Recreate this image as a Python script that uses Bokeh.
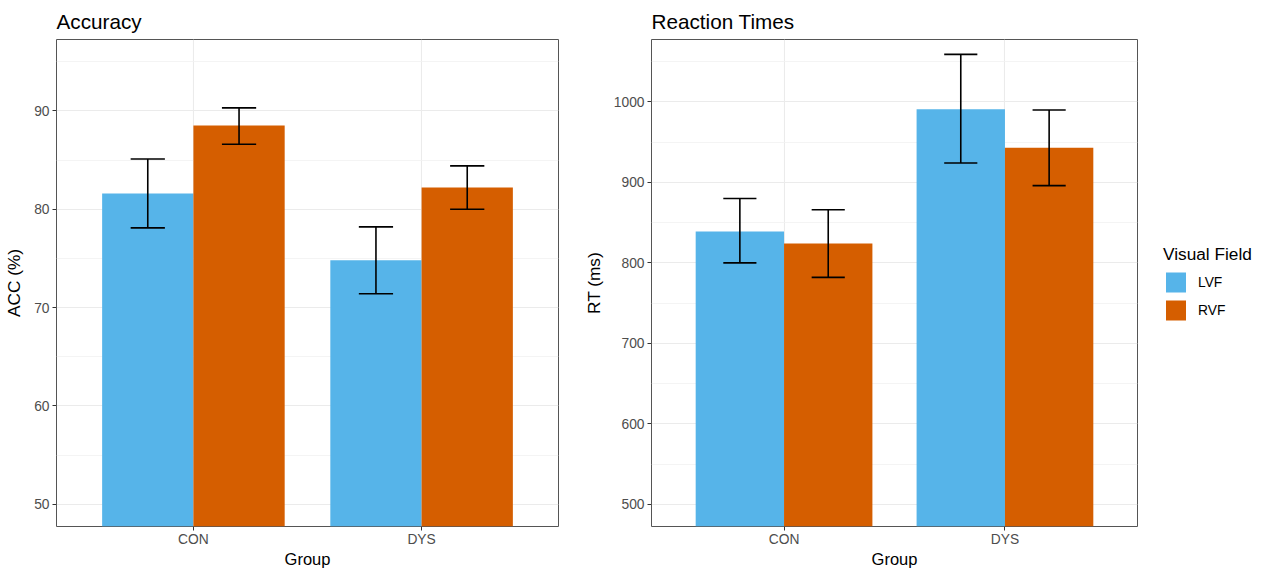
from bokeh.plotting import figure
from bokeh.layouts import row
from bokeh.models import Range1d, FixedTicker, Legend, LegendItem
from bokeh.embed import file_html
from bokeh.resources import INLINE

# ---- data ----
groups = ["CON", "DYS"]
fields = ["LVF", "RVF"]

acc_lvf = [81.6, 74.8]
acc_lvf_lo = [78.1, 71.4]
acc_lvf_hi = [85.1, 78.2]
acc_rvf = [88.5, 82.2]
acc_rvf_lo = [86.6, 80.0]
acc_rvf_hi = [90.3, 84.4]

rt_lvf = [839, 991]
rt_lvf_lo = [800, 924]
rt_lvf_hi = [880, 1059]
rt_rvf = [824, 943]
rt_rvf_lo = [782, 896]
rt_rvf_hi = [866, 990]

acc_limits = [50, 95]
acc_ticks = [50, 60, 70, 80, 90]
acc_minor = [55, 65, 75, 85, 95]
rt_limits = [500, 1050]
rt_ticks = [500, 600, 700, 800, 900, 1000]
rt_minor = [550, 650, 750, 850, 950, 1050]

# ---- style ----
COLORS = {"LVF": "#56B4E9", "RVF": "#D55E00"}
FONT = "Liberation Sans"
BAR_W = 0.4
DODGE = {"LVF": -0.2, "RVF": 0.2}
CAP = 0.075


def make_panel(title, ylabel, limits, ticks, minor, series, border_left, border_right, frame_w):
    lo, hi = limits
    pad = 0.05 * (hi - lo)
    p = figure(
        frame_width=frame_w, frame_height=487,
        min_border_left=border_left, min_border_right=border_right,
        min_border_top=39, min_border_bottom=40,
        x_range=Range1d(0.4, 2.6), y_range=Range1d(lo - pad, hi + pad),
        output_backend="svg", toolbar_location=None, title=title,
    )
    p.title.text_font = FONT
    p.title.text_font_size = "20.7px"
    p.title.text_font_style = "normal"
    p.title.text_color = "#000000"
    p.title.standoff = 14
    p.title.offset = 0

    p.background_fill_color = "white"
    p.border_fill_color = "white"
    p.outline_line_color = "#555555"
    p.outline_line_width = 1

    xs = [i + 1 for i in range(len(groups))]
    p.xaxis.ticker = FixedTicker(ticks=xs)
    p.xaxis.major_label_overrides = {x: g for x, g in zip(xs, groups)}
    p.xaxis.axis_label = "Group"
    p.yaxis.ticker = FixedTicker(ticks=ticks, minor_ticks=minor)
    p.yaxis.axis_label = ylabel

    for ax in (p.xaxis, p.yaxis):
        ax.axis_line_color = None
        ax.major_tick_line_color = "#333333"
        ax.major_tick_in = 0
        ax.major_tick_out = 4
        ax.minor_tick_in = 0
        ax.minor_tick_out = 0
        ax.major_label_text_font = FONT
        ax.major_label_text_font_size = "13.8px"
        ax.major_label_text_color = "#4D4D4D"
        ax.axis_label_text_font = FONT
        ax.axis_label_text_font_size = "17.25px"
        ax.axis_label_text_font_style = "normal"
        ax.axis_label_text_color = "#000000"
    p.xaxis.axis_label_text_font_size = "16.5px"
    p.xaxis.major_label_standoff = 1
    p.xaxis.axis_label_standoff = 0
    p.yaxis.major_label_standoff = 3
    p.yaxis.axis_label_standoff = 7

    p.xgrid.grid_line_color = "#EBEBEB"
    p.xgrid.grid_line_width = 1.1
    p.ygrid.grid_line_color = "#EBEBEB"
    p.ygrid.grid_line_width = 1.1
    p.ygrid.minor_grid_line_color = "#F1F1F1"
    p.ygrid.minor_grid_line_width = 0.8

    renderers = {}
    for f in fields:
        vals, los, his = series[f]
        px = [x + DODGE[f] for x in xs]
        r = p.vbar(x=px, top=vals, bottom=0, width=BAR_W,
                   fill_color=COLORS[f], line_color=None)
        renderers[f] = r
    for f in fields:
        vals, los, his = series[f]
        px = [x + DODGE[f] for x in xs]
        p.segment(x0=px, y0=los, x1=px, y1=his, line_color="black", line_width=1.6)
        p.segment(x0=[x - CAP for x in px], y0=los, x1=[x + CAP for x in px], y1=los,
                  line_color="black", line_width=1.6)
        p.segment(x0=[x - CAP for x in px], y0=his, x1=[x + CAP for x in px], y1=his,
                  line_color="black", line_width=1.6)
    return p, renderers


p1, _ = make_panel(
    "Accuracy", "ACC (%)", acc_limits, acc_ticks, acc_minor,
    {"LVF": (acc_lvf, acc_lvf_lo, acc_lvf_hi), "RVF": (acc_rvf, acc_rvf_lo, acc_rvf_hi)},
    56, 8, 502,
)
p2, rends = make_panel(
    "Reaction Times", "RT (ms)", rt_limits, rt_ticks, rt_minor,
    {"LVF": (rt_lvf, rt_lvf_lo, rt_lvf_hi), "RVF": (rt_rvf, rt_rvf_lo, rt_rvf_hi)},
    85, 124, 486,
)

legend = Legend(
    items=[LegendItem(label=f, renderers=[rends[f]]) for f in fields],
    location="left", title="Visual Field",
    title_text_font=FONT, title_text_font_size="17.25px", title_text_font_style="normal",
    title_text_color="#000000", title_standoff=5,
    label_text_font=FONT, label_text_font_size="13.8px", label_text_color="#000000",
    label_standoff=10, glyph_width=25, glyph_height=25, spacing=3, label_height=25,
    padding=0, margin=26, border_line_color=None, background_fill_alpha=0,
)
p2.add_layout(legend, "right")

layout = row(p1, p2)
open("out.html", "w").write(file_html(layout, INLINE))
